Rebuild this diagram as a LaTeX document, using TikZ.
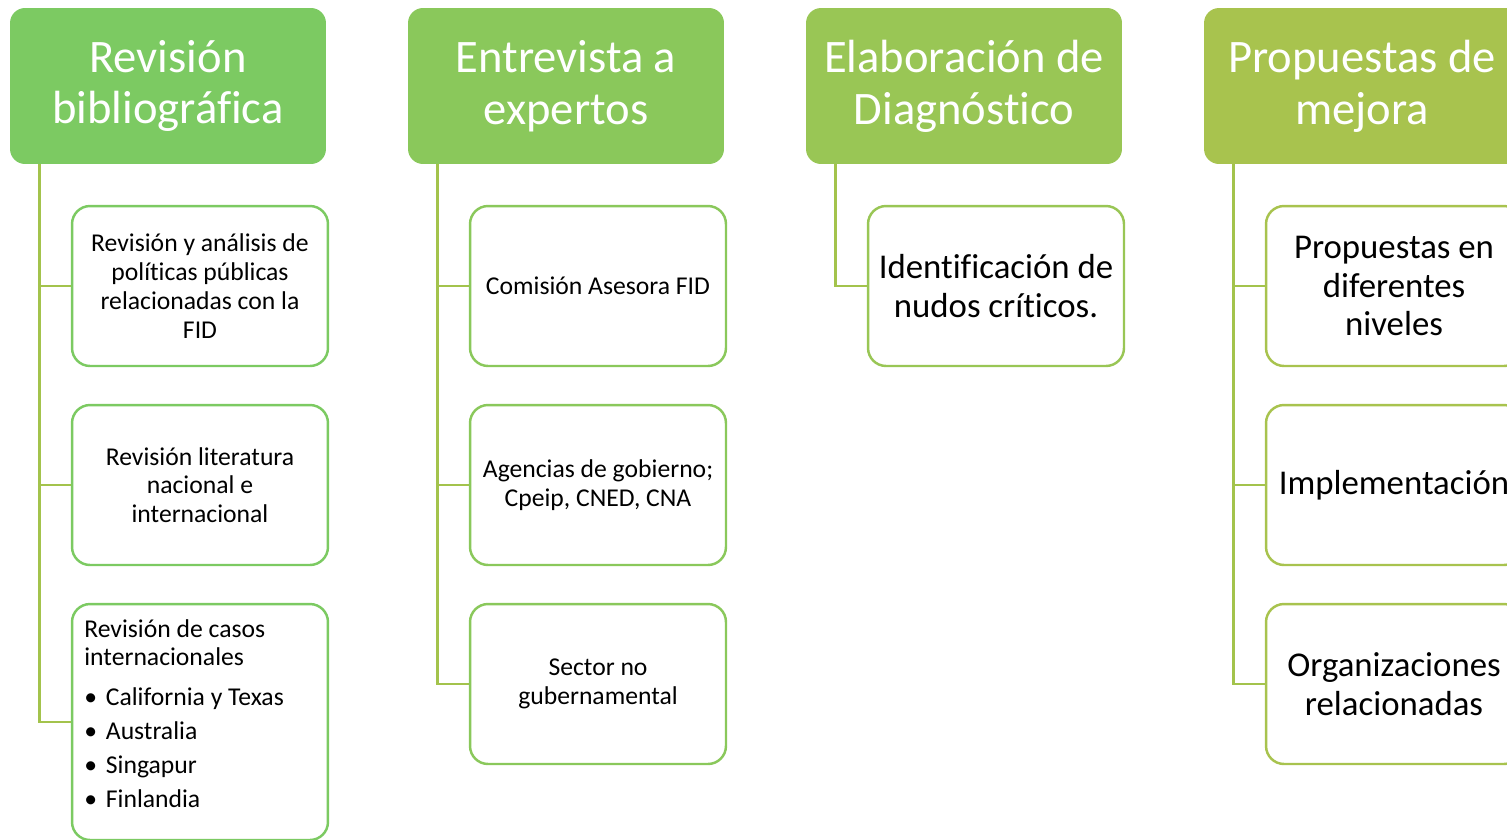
\documentclass[tikz,border=0pt]{standalone}
\usepackage{fontspec}
\setmainfont[Ligatures=NoCommon]{Carlito}
\usetikzlibrary{positioning}

\definecolor{hdrA}{HTML}{7CCA62}
\definecolor{hdrB}{HTML}{8AC85B}
\definecolor{hdrC}{HTML}{99C655}
\definecolor{hdrD}{HTML}{A8C34E}
\definecolor{lineclr}{HTML}{A3C34C}

\begin{document}
\begin{tikzpicture}[x=0.02cm,y=-0.02cm,
	hdr/.style={rectangle, rounded corners=0.3cm, minimum width=6.32cm, minimum height=3.12cm, text=white, align=center, inner sep=0pt, font=\fontsize{26.5}{29.5}\selectfont},
	item/.style={rectangle, draw, line width=1.4pt, rounded corners=0.36cm, minimum width=5.12cm, minimum height=3.2cm, align=center, fill=white, inner sep=2pt, font=\fontsize{14.6}{16.4}\selectfont},
	big/.style={font=\fontsize{19.8}{22.1}\selectfont},
	link/.style={draw=lineclr, line width=1.4pt}]

	\useasboundingbox (0,0) rectangle (1507,839);
	\clip (0,0) rectangle (1507,839);

	% column heads
	\node (h1) [hdr, fill=hdrA] at (168,86) {Revisión\\bibliográfica};
	\node (h2) [hdr, fill=hdrB] at (566,86) {Entrevista a\\expertos};
	\node (h3) [hdr, fill=hdrC] at (964,86) {Elaboración de\\Diagnóstico};
	\node (h4) [hdr, fill=hdrD] at (1362,86) {Propuestas de\\mejora};

	% connectors
	\draw[link] ([xshift=0.6cm]h1.south west) |- (200,286);
	\draw[link] ([xshift=0.6cm]h1.south west) |- (200,485);
	\draw[link] ([xshift=0.6cm]h1.south west) |- (200,722);
	\draw[link] ([xshift=0.6cm]h2.south west) |- (598,286);
	\draw[link] ([xshift=0.6cm]h2.south west) |- (598,485);
	\draw[link] ([xshift=0.6cm]h2.south west) |- (598,684);
	\draw[link] ([xshift=0.6cm]h3.south west) |- (996,286);
	\draw[link] ([xshift=0.6cm]h4.south west) |- (1394,286);
	\draw[link] ([xshift=0.6cm]h4.south west) |- (1394,485);
	\draw[link] ([xshift=0.6cm]h4.south west) |- (1394,684);

	% first column
	\node (b11) [item, draw=hdrA] at (200,286) {Revisión y análisis de\\políticas públicas\\relacionadas con la\\FID};
	\node (b12) [item, draw=hdrA] at (200,485) {Revisión literatura\\nacional e\\internacional};
	\node (b13) [item, draw=hdrA, minimum height=4.72cm] at (200,722) {};
	\node (b13t) [anchor=north west, align=left, inner sep=0pt, font=\fontsize{14.6}{16.4}\selectfont] at (84,619)
		{Revisión de casos\\internacionales\\[6.3pt]
		\textbullet\hspace{5pt}California y Texas\\[2.9pt]
		\textbullet\hspace{5pt}Australia\\[2.9pt]
		\textbullet\hspace{5pt}Singapur\\[2.9pt]
		\textbullet\hspace{5pt}Finlandia};

	% second column
	\node (b21) [item, draw=hdrB] at (598,286) {Comisión Asesora FID};
	\node (b22) [item, draw=hdrB] at (598,485) {Agencias de gobierno;\\Cpeip, CNED, CNA};
	\node (b23) [item, draw=hdrB] at (598,684) {Sector no\\gubernamental};

	% third column
	\node (b31) [item, big, draw=hdrC] at (996,286) {Identificación de\\nudos críticos.};

	% fourth column
	\node (b41) [item, big, draw=hdrD] at (1394,286) {Propuestas en\\diferentes\\niveles};
	\node (b42) [item, big, draw=hdrD] at (1394,485) {Implementación};
	\node (b43) [item, big, draw=hdrD] at (1394,684) {Organizaciones\\relacionadas};
\end{tikzpicture}
\end{document}
